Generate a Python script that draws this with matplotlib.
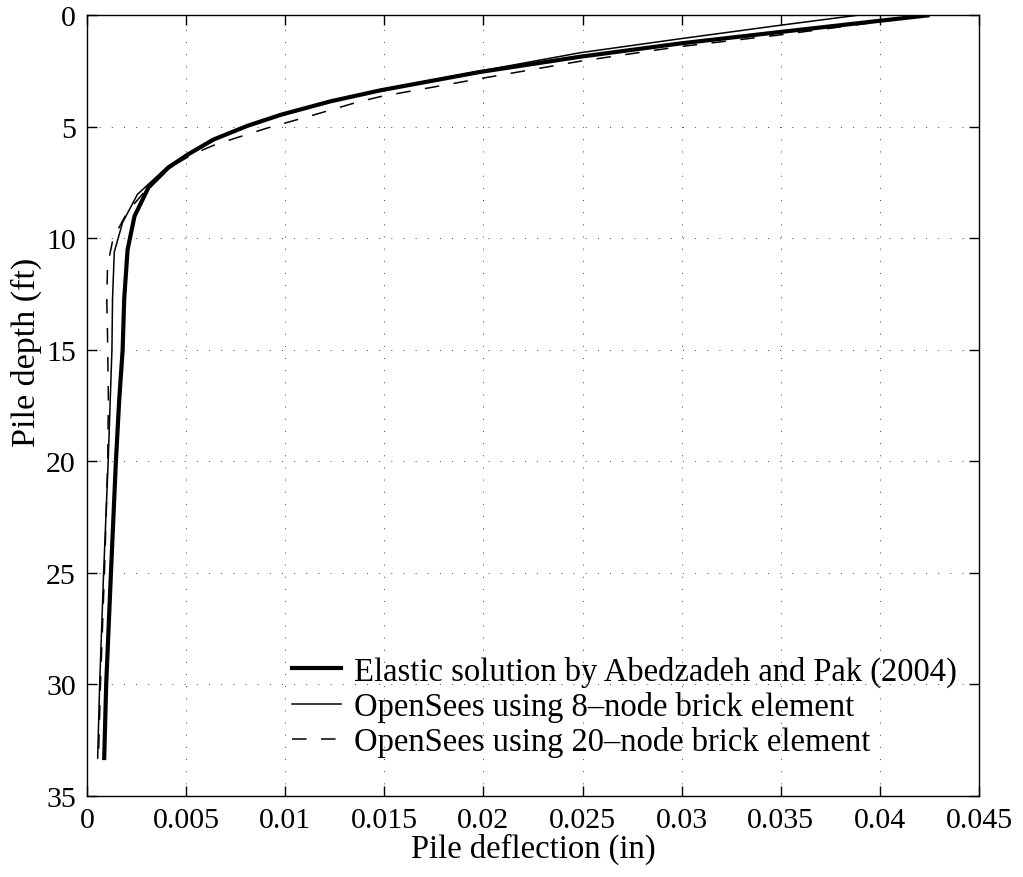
import matplotlib
matplotlib.use("Agg")
import matplotlib.pyplot as plt

# --- data ---
# Elastic solution by Abedzadeh and Pak (2004)
elastic_defl = [0.0424, 0.0349, 0.0299, 0.0249, 0.0198, 0.0148, 0.0123, 0.0098, 0.0081,
                0.0064, 0.0051, 0.0041, 0.0031, 0.0024, 0.00205, 0.00188, 0.0018,
                0.00163, 0.00146, 0.00121, 0.00097, 0.00087]
elastic_depth = [0.0, 0.75, 1.26, 1.85, 2.54, 3.36, 3.85, 4.45, 4.95,
                 5.56, 6.23, 6.83, 7.72, 9.0, 10.5, 12.7, 15.0,
                 17.2, 20.0, 25.0, 30.0, 33.3]

# OpenSees, 8-node brick
brick8_defl = [0.0388, 0.0349, 0.0299, 0.0249, 0.0198, 0.0148, 0.0123, 0.0098, 0.0063,
               0.0041, 0.00255, 0.0018, 0.00138, 0.00129, 0.00126, 0.00107,
               0.00084, 0.00064, 0.00054]
brick8_depth = [0.0, 0.45, 1.05, 1.67, 2.5, 3.34, 3.85, 4.45, 5.55,
                6.75, 8.02, 9.28, 10.6, 12.7, 15.0, 20.0,
                25.0, 30.0, 33.3]

# OpenSees, 20-node brick
brick20_defl = [0.0424, 0.0349, 0.0299, 0.0249, 0.0198, 0.0148, 0.0136, 0.0113, 0.0091,
                0.0075, 0.0064, 0.0054, 0.0044, 0.0031, 0.00205, 0.00132, 0.00104, 0.001,
                0.00104, 0.00108, 0.00105, 0.00088, 0.00068, 0.00058]
brick20_depth = [0.0, 0.88, 1.4, 2.05, 2.84, 3.64, 3.9, 4.5, 5.05,
                 5.5, 5.82, 6.2, 6.7, 7.7, 8.8, 10.0, 11.2, 12.7,
                 14.5, 17.2, 20.0, 25.0, 30.0, 33.3]

x_ticks = [0, 0.005, 0.01, 0.015, 0.02, 0.025, 0.03, 0.035, 0.04, 0.045]
x_tick_labels = ["0", "0.005", "0.01", "0.015", "0.02", "0.025", "0.03", "0.035", "0.04", "0.045"]
y_ticks = [0, 5, 10, 15, 20, 25, 30, 35]

plt.rcParams['font.family'] = ['Liberation Serif', 'DejaVu Serif']

fig = plt.figure(figsize=(10.23, 8.78), dpi=100)
ax = fig.add_axes([0.085, 0.0923, 0.872, 0.889])

ax.plot(elastic_defl, elastic_depth, color='black', linewidth=3.0,
        label='Elastic solution by Abedzadeh and Pak (2004)')
ax.plot(brick8_defl, brick8_depth, color='black', linewidth=1.1,
        label='OpenSees using 8\u2013node brick element')
ax.plot(brick20_defl, brick20_depth, color='black', linewidth=1.1,
        linestyle=(0, (9.5, 9.5)), label='OpenSees using 20\u2013node brick element')

ax.set_xlim(0, 0.045)
ax.set_ylim(35, 0)
ax.set_xticks(x_ticks)
ax.set_xticklabels(x_tick_labels)
ax.set_yticks(y_ticks)

ax.grid(True, color='0.25', linewidth=0.7, linestyle=(0, (1, 11.5)))
ax.tick_params(direction='in', length=7, width=1.0, top=True, right=True,
               labelsize=21.5, pad=8)
for s in ax.spines.values():
    s.set_linewidth(1.0)

ax.set_xlabel('Pile deflection (in)', fontsize=23.5, labelpad=0)
ax.set_ylabel('Pile depth (ft)', fontsize=24.5)
ax.yaxis.set_label_coords(-0.05, 0.57)

ax.legend(loc='lower left', bbox_to_anchor=(0.23, 0.05), frameon=False,
          fontsize=23.5, handlelength=1.5, handletextpad=0.4, labelspacing=0.12,
          borderpad=0, borderaxespad=0)

fig.savefig('out.png', dpi=100)
